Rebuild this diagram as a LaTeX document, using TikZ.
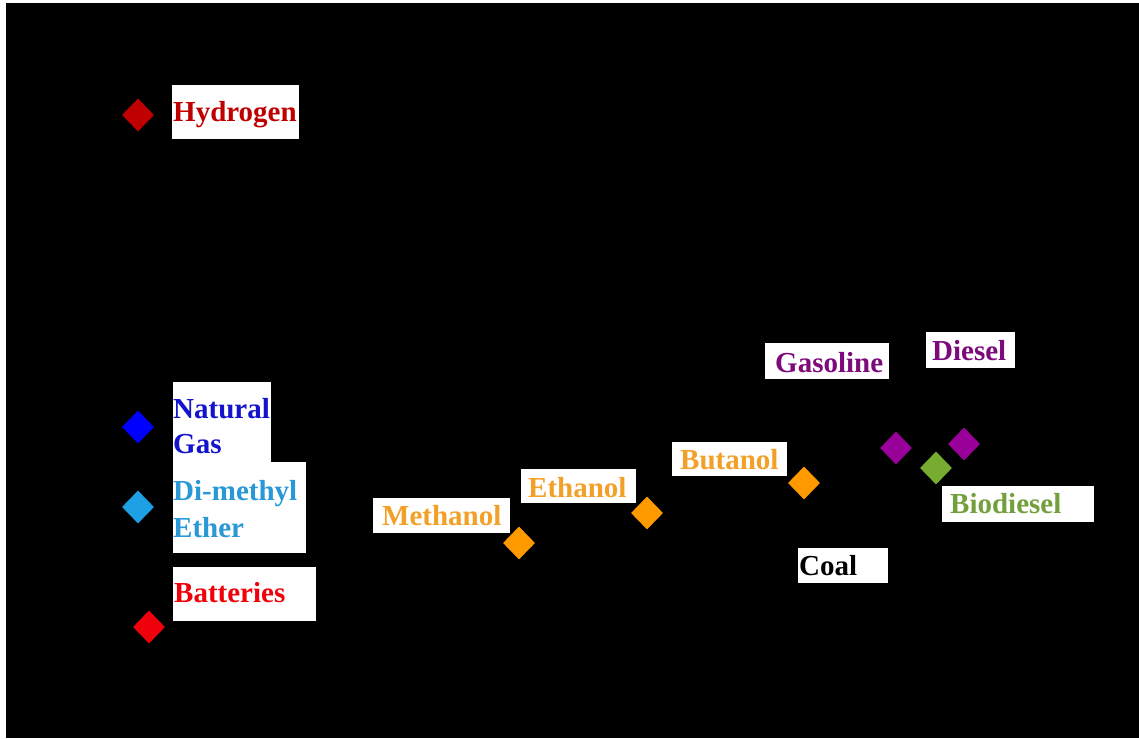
\documentclass[tikz,border=0pt]{standalone}
\usepackage{fontspec}
\setmainfont{Liberation Serif}
\usetikzlibrary{shapes.geometric}

\definecolor{hydro}{RGB}{192,0,0}
\definecolor{ngdia}{RGB}{0,0,255}
\definecolor{ngtxt}{RGB}{20,20,205}
\definecolor{dmedia}{RGB}{30,160,228}
\definecolor{dmetxt}{RGB}{40,152,215}
\definecolor{batt}{RGB}{240,0,10}
\definecolor{alcdia}{RGB}{255,153,0}
\definecolor{alctxt}{RGB}{242,160,40}
\definecolor{petdia}{RGB}{153,0,153}
\definecolor{pettxt}{RGB}{125,10,125}
\definecolor{biodia}{RGB}{119,172,48}
\definecolor{biotxt}{RGB}{115,160,60}

\tikzset{
  fuelmark/.style={diamond, inner sep=0pt, minimum width=32pt, minimum height=33pt, draw=none, fill=#1},
  labelbox/.style={fill=white, draw=none},
  labeltext/.style={anchor=base west, inner sep=0pt, text=#1,
    font=\fontsize{29}{35}\selectfont\bfseries}
}

\begin{document}
\begin{tikzpicture}[x=1pt, y=-1pt]
  \useasboundingbox (0,0) rectangle (1139,738);
  % page and plotting area
  \fill[white] (0,0) rectangle (1139,738);
  \fill[black] (6,3) rectangle (1139,738);

  % label backgrounds
  \fill[labelbox] (172,85) rectangle (299,139);
  \fill[labelbox] (173,382) rectangle (271,470);
  \fill[labelbox] (173,462) rectangle (306,553);
  \fill[labelbox] (173,567) rectangle (316,621);
  \fill[labelbox] (373,498) rectangle (510,533);
  \fill[labelbox] (521,469) rectangle (636,503);
  \fill[labelbox] (672,442) rectangle (787,476);
  \fill[labelbox] (798,548) rectangle (888,583);
  \fill[labelbox] (765,343) rectangle (889,379);
  \fill[labelbox] (926,332) rectangle (1015,368);
  \fill[labelbox] (942,486) rectangle (1094,522);

  % labels
  \node[labeltext=hydro] (tH2) at (173,122) {Hydrogen};
  \node[labeltext=ngtxt] (tNG1) at (173,418) {Natural};
  \node[labeltext=ngtxt] (tNG2) at (173,453) {Gas};
  \node[labeltext=dmetxt] (tDME1) at (173,500) {Di-methyl};
  \node[labeltext=dmetxt] (tDME2) at (173,537) {Ether};
  \node[labeltext=batt] (tBat) at (174,602) {Batteries};
  \node[labeltext=alctxt] (tMeOH) at (382,525) {Methanol};
  \node[labeltext=alctxt] (tEtOH) at (528,497) {Ethanol};
  \node[labeltext=alctxt] (tBuOH) at (680,469) {Butanol};
  \node[labeltext=black] (tCoal) at (799,575) {Coal};
  \node[labeltext=pettxt] (tGas) at (775,372) {Gasoline};
  \node[labeltext=pettxt] (tDsl) at (932,360) {Diesel};
  \node[labeltext=biotxt] (tBio) at (950,513) {Biodiesel};

  % data markers
  \node[fuelmark=hydro] (mH2) at (138,115) {};
  \node[fuelmark=ngdia] (mNG) at (138,427) {};
  \node[fuelmark=dmedia] (mDME) at (138,507) {};
  \node[fuelmark=batt] (mBat) at (149,627) {};
  \node[fuelmark=alcdia] (mMeOH) at (519,543) {};
  \node[fuelmark=alcdia] (mEtOH) at (647,513) {};
  \node[fuelmark=alcdia] (mBuOH) at (804,483) {};
  \node[fuelmark=petdia] (mGas) at (896,448) {};
  \node[fuelmark=petdia] (mDsl) at (964,444) {};
  \node[fuelmark=biodia] (mBio) at (936,468) {};
\end{tikzpicture}
\end{document}
